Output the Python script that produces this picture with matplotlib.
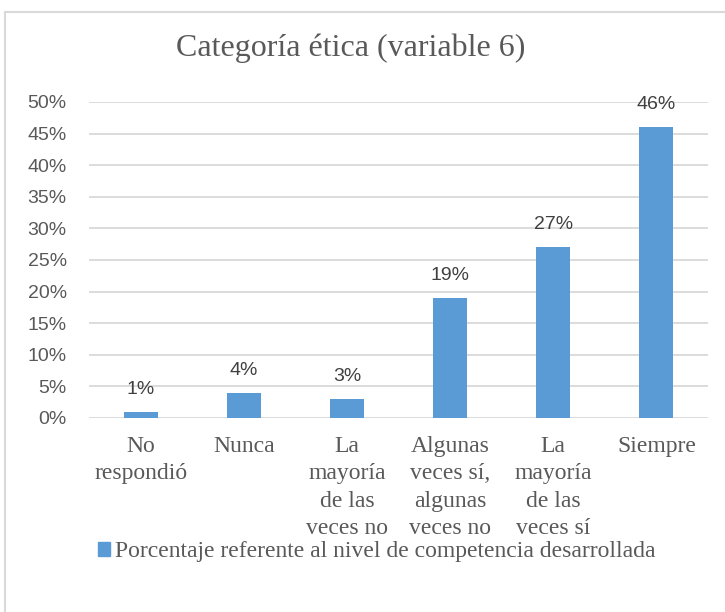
import matplotlib.pyplot as plt
from matplotlib.patches import Rectangle, Patch
from matplotlib.ticker import PercentFormatter

# respuestas y porcentajes
categorias = ['No\nrespondió', 'Nunca', 'La\nmayoría\nde las\nveces no',
              'Algunas\nveces sí,\nalgunas\nveces no', 'La\nmayoría\nde las\nveces sí',
              'Siempre']
porcentajes = [1, 4, 3, 19, 27, 46]
ticks_y = [0, 5, 10, 15, 20, 25, 30, 35, 40, 45, 50]

azul = '#5b9bd5'
gris_texto = '#595959'
gris_linea = '#d9d9d9'
serif = 'Liberation Serif'
sans = 'Liberation Sans'

fig = plt.figure(figsize=(7.25, 6.12), dpi=100)
ax = fig.add_axes([89 / 725, 1 - 418 / 612, (708 - 89) / 725, (418 - 102) / 612])

# marco del grafico
fig.patches.append(Rectangle((5 / 725, -0.1), 1.2, 1.1 - 12 / 612,
                             transform=fig.transFigure, fill=False,
                             edgecolor=gris_linea, linewidth=1.5))

x = range(len(categorias))
barras = ax.bar(x, porcentajes, width=0.33, color=azul, zorder=3)

for b, v in zip(barras, porcentajes):
    ax.text(b.get_x() + b.get_width() / 2, v + 2.2, f'{v}%', ha='center', va='bottom',
            fontsize=14, family=sans, color='#404040', zorder=4)

ax.set_xlim(-0.5, len(categorias) - 0.5)
ax.set_ylim(0, 50)
ax.set_yticks(ticks_y)
ax.yaxis.set_major_formatter(PercentFormatter(decimals=0))
ax.grid(axis='y', color=gris_linea, linewidth=1.3, zorder=0)
for s in ax.spines.values():
    s.set_visible(False)
ax.tick_params(length=0)
ax.tick_params(axis='y', pad=16, labelsize=14, labelcolor=gris_texto)
for t in ax.get_yticklabels():
    t.set_family(sans)

ax.set_xticks(list(x))
ax.set_xticklabels(categorias, family=serif, fontsize=17, color=gris_texto,
                   linespacing=1.4, va='top')
ax.tick_params(axis='x', pad=13)

fig.text(351 / 725, 1 - 48 / 612, 'Categoría ética (variable 6)', ha='center', va='center',
         family=serif, fontsize=23, color=gris_texto)

fig.legend(handles=[Patch(color=azul, label='Porcentaje referente al nivel de competencia desarrollada')],
           loc='center', bbox_to_anchor=(377 / 725, 1 - 552 / 612), frameon=False,
           prop={'family': serif, 'size': 17}, labelcolor=gris_texto,
           handlelength=0.5, handleheight=0.5, handletextpad=0.2)

fig.savefig('out.png', dpi=100)
